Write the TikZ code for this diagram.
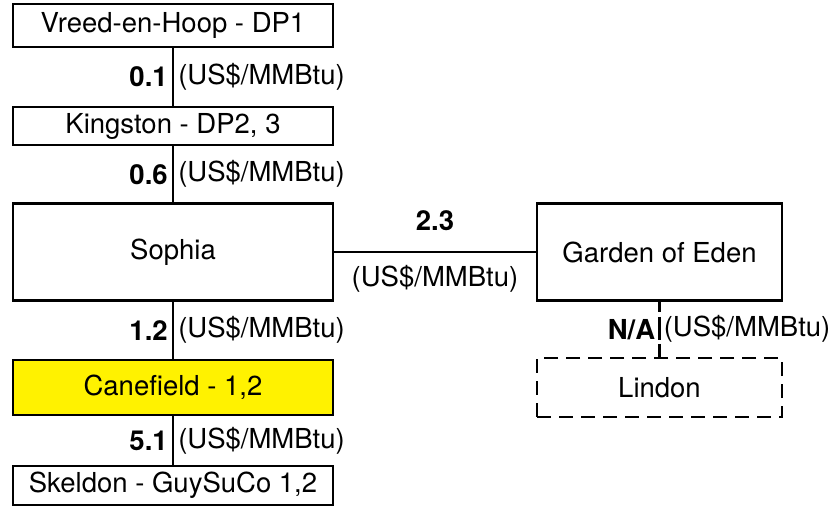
\documentclass[tikz,border=0pt]{standalone}
\usepackage{fontspec}
\setmainfont{TeX Gyre Heros}
\begin{document}
\begin{tikzpicture}[x=1pt,y=-1pt,line width=2.6pt,
  box/.style={draw, rectangle, inner sep=0pt, minimum width=320pt, font=\fontsize{27.5}{32}\selectfont},
  lbl/.style={font=\fontsize{27.5}{32}\selectfont, inner sep=4pt},
  num/.style={font=\fontsize{27.5}{32}\selectfont\bfseries, inner sep=4pt}]
\useasboundingbox (0,0) rectangle (833,507);
\node[box, minimum height=43pt] (vh) at (173,25.5) {Vreed-en-Hoop - DP1};
\node[box, minimum height=38pt] (kg) at (173,126) {Kingston - DP2, 3};
\node[box, minimum height=97pt] (so) at (173,252) {Sophia};
\node[box, minimum height=55pt, fill=yellow] (cf) at (173,387.5) {Canefield - 1,2};
\node[box, minimum height=39pt] (sk) at (173,485.5) {Skeldon - GuySuCo 1,2};
\node[box, minimum width=245pt, minimum height=97pt] (ge) at (659.5,252) {Garden of Eden};
\node[box, minimum width=245pt, minimum height=59pt, dash pattern=on 14pt off 8pt] (li) at (659.5,387.5) {Lindon};
\draw (vh) -- node[num, left]{0.1} node[lbl, right]{(US\$/MMBtu)} (kg);
\draw (kg) -- node[num, left]{0.6} node[lbl, right]{(US\$/MMBtu)} (so);
\draw (so) -- node[num, left]{1.2} node[lbl, right]{(US\$/MMBtu)} (cf);
\draw (cf) -- node[num, left]{5.1} node[lbl, right]{(US\$/MMBtu)} (sk);
\draw (so) -- node[num, above=16pt]{2.3} node[lbl, below=8pt]{(US\$/MMBtu)} (ge);
\draw[dash pattern=on 10pt off 5pt on 23pt off 4pt on 20pt] (ge) -- node[num, left, inner sep=3pt]{N/A} node[lbl, right, inner sep=3pt]{(US\$/MMBtu)} (li);
\end{tikzpicture}
\end{document}
